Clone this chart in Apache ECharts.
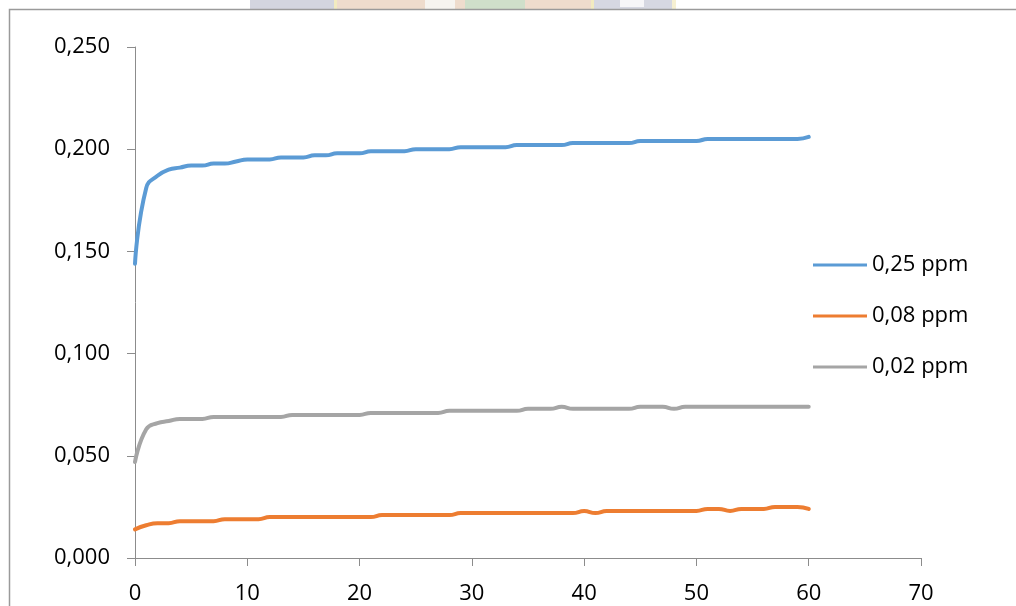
<!DOCTYPE html>
<html>
<head>
<meta charset="utf-8">
<script src="https://cdn.jsdelivr.net/npm/echarts@6/dist/echarts.min.js"></script>
<style>
  html, body { margin: 0; padding: 0; background: #ffffff; }
  #chart { width: 1016px; height: 606px; }
</style>
</head>
<body>
<div id="chart"></div>
<script>
// Time axis (0..60) and absorbance readings for each concentration
const minutes = Array.from({ length: 61 }, (_, i) => i);

const seriesNames = ['0,25 ppm', '0,08 ppm', '0,02 ppm'];

const conc025 = [
  0.144, 0.181, 0.187, 0.190, 0.191, 0.192, 0.192, 0.193, 0.193, 0.194,
  0.195, 0.195, 0.195, 0.196, 0.196, 0.196, 0.197, 0.197, 0.198, 0.198,
  0.198, 0.199, 0.199, 0.199, 0.199, 0.200, 0.200, 0.200, 0.200, 0.201,
  0.201, 0.201, 0.201, 0.201, 0.202, 0.202, 0.202, 0.202, 0.202, 0.203,
  0.203, 0.203, 0.203, 0.203, 0.203, 0.204, 0.204, 0.204, 0.204, 0.204,
  0.204, 0.205, 0.205, 0.205, 0.205, 0.205, 0.205, 0.205, 0.205, 0.205,
  0.206
];

const conc008 = [
  0.014, 0.016, 0.017, 0.017, 0.018, 0.018, 0.018, 0.018, 0.019, 0.019,
  0.019, 0.019, 0.020, 0.020, 0.020, 0.020, 0.020, 0.020, 0.020, 0.020,
  0.020, 0.020, 0.021, 0.021, 0.021, 0.021, 0.021, 0.021, 0.021, 0.022,
  0.022, 0.022, 0.022, 0.022, 0.022, 0.022, 0.022, 0.022, 0.022, 0.022,
  0.023, 0.022, 0.023, 0.023, 0.023, 0.023, 0.023, 0.023, 0.023, 0.023,
  0.023, 0.024, 0.024, 0.023, 0.024, 0.024, 0.024, 0.025, 0.025, 0.025,
  0.024
];

const conc002 = [
  0.047, 0.063, 0.066, 0.067, 0.068, 0.068, 0.068, 0.069, 0.069, 0.069,
  0.069, 0.069, 0.069, 0.069, 0.070, 0.070, 0.070, 0.070, 0.070, 0.070,
  0.070, 0.071, 0.071, 0.071, 0.071, 0.071, 0.071, 0.071, 0.072, 0.072,
  0.072, 0.072, 0.072, 0.072, 0.072, 0.073, 0.073, 0.073, 0.074, 0.073,
  0.073, 0.073, 0.073, 0.073, 0.073, 0.074, 0.074, 0.074, 0.073, 0.074,
  0.074, 0.074, 0.074, 0.074, 0.074, 0.074, 0.074, 0.074, 0.074, 0.074,
  0.074
];

const colors = ['#5B9BD5', '#ED7D31', '#A5A5A5'];
const FONT = 'Open Sans';

const pairs = (ys) => minutes.map((x, i) => [x, ys[i]]);

const chart = echarts.init(document.getElementById('chart'), null, { renderer: 'canvas' });

const axisLineStyle = { color: '#8C8C8C', width: 1 };

chart.setOption({
  backgroundColor: '#ffffff',
  animation: false,
  color: colors,
  graphic: [
    // faint crest peeking above the chart frame
    { type: 'rect', z: 0, shape: { x: 250, y: 0, width: 84, height: 9 }, style: { fill: '#D3D5DF' } },
    { type: 'rect', z: 0, shape: { x: 334, y: 0, width: 3, height: 9 }, style: { fill: '#F2EBC0' } },
    { type: 'rect', z: 0, shape: { x: 337, y: 0, width: 254, height: 9 }, style: { fill: '#EEDCCD' } },
    { type: 'rect', z: 0, shape: { x: 425, y: 0, width: 30, height: 9 }, style: { fill: '#F6F4F0' } },
    { type: 'rect', z: 0, shape: { x: 465, y: 0, width: 60, height: 9 }, style: { fill: '#CFDFCA' } },
    { type: 'rect', z: 0, shape: { x: 591, y: 0, width: 3, height: 9 }, style: { fill: '#F2EBC0' } },
    { type: 'rect', z: 0, shape: { x: 594, y: 0, width: 78, height: 9 }, style: { fill: '#D6D8E2' } },
    { type: 'rect', z: 0, shape: { x: 620, y: 0, width: 24, height: 7 }, style: { fill: '#F6F6F8' } },
    { type: 'rect', z: 0, shape: { x: 672, y: 0, width: 4, height: 9 }, style: { fill: '#F6F0D2' } },
    // chart area frame
    {
      type: 'rect', z: 1,
      shape: { x: 9.5, y: 9.5, width: 1200, height: 800 },
      style: { fill: 'transparent', stroke: '#9A9A9A', lineWidth: 1.5 }
    }
  ],
  grid: { left: 135, right: 95, top: 47, bottom: 48, containLabel: false },
  legend: {
    orient: 'vertical',
    left: 808,
    top: 248,
    icon: 'rect',
    itemWidth: 54,
    itemHeight: 3,
    itemGap: 27,
    data: seriesNames,
    textStyle: { fontFamily: FONT, fontSize: 22, color: '#000000', lineHeight: 24, padding: [0, 0, 0, 0] }
  },
  xAxis: {
    type: 'value',
    min: 0,
    max: 70,
    interval: 10,
    axisLine: { show: true, lineStyle: axisLineStyle },
    axisTick: { show: true, inside: false, length: 8, lineStyle: axisLineStyle },
    splitLine: { show: false },
    axisLabel: { margin: 25, fontFamily: FONT, fontSize: 22, color: '#000000' }
  },
  yAxis: {
    type: 'value',
    min: 0,
    max: 0.25,
    interval: 0.05,
    axisLine: { show: true, lineStyle: axisLineStyle },
    axisTick: { show: true, inside: false, length: 8, lineStyle: axisLineStyle },
    splitLine: { show: false },
    axisLabel: {
      margin: 25,
      fontFamily: FONT,
      fontSize: 22,
      color: '#000000',
      formatter: (v) => v.toFixed(3).replace('.', ',')
    }
  },
  series: [
    { name: seriesNames[0], type: 'line', data: pairs(conc025) },
    { name: seriesNames[1], type: 'line', data: pairs(conc008) },
    { name: seriesNames[2], type: 'line', data: pairs(conc002) }
  ].map((s, i) => Object.assign(s, {
    smooth: 0.5,
    symbol: 'none',
    showSymbol: false,
    lineStyle: { color: colors[i], width: 4, cap: 'round', join: 'round' },
    itemStyle: { color: colors[i] },
    z: 3
  }))
});
</script>
</body>
</html>
